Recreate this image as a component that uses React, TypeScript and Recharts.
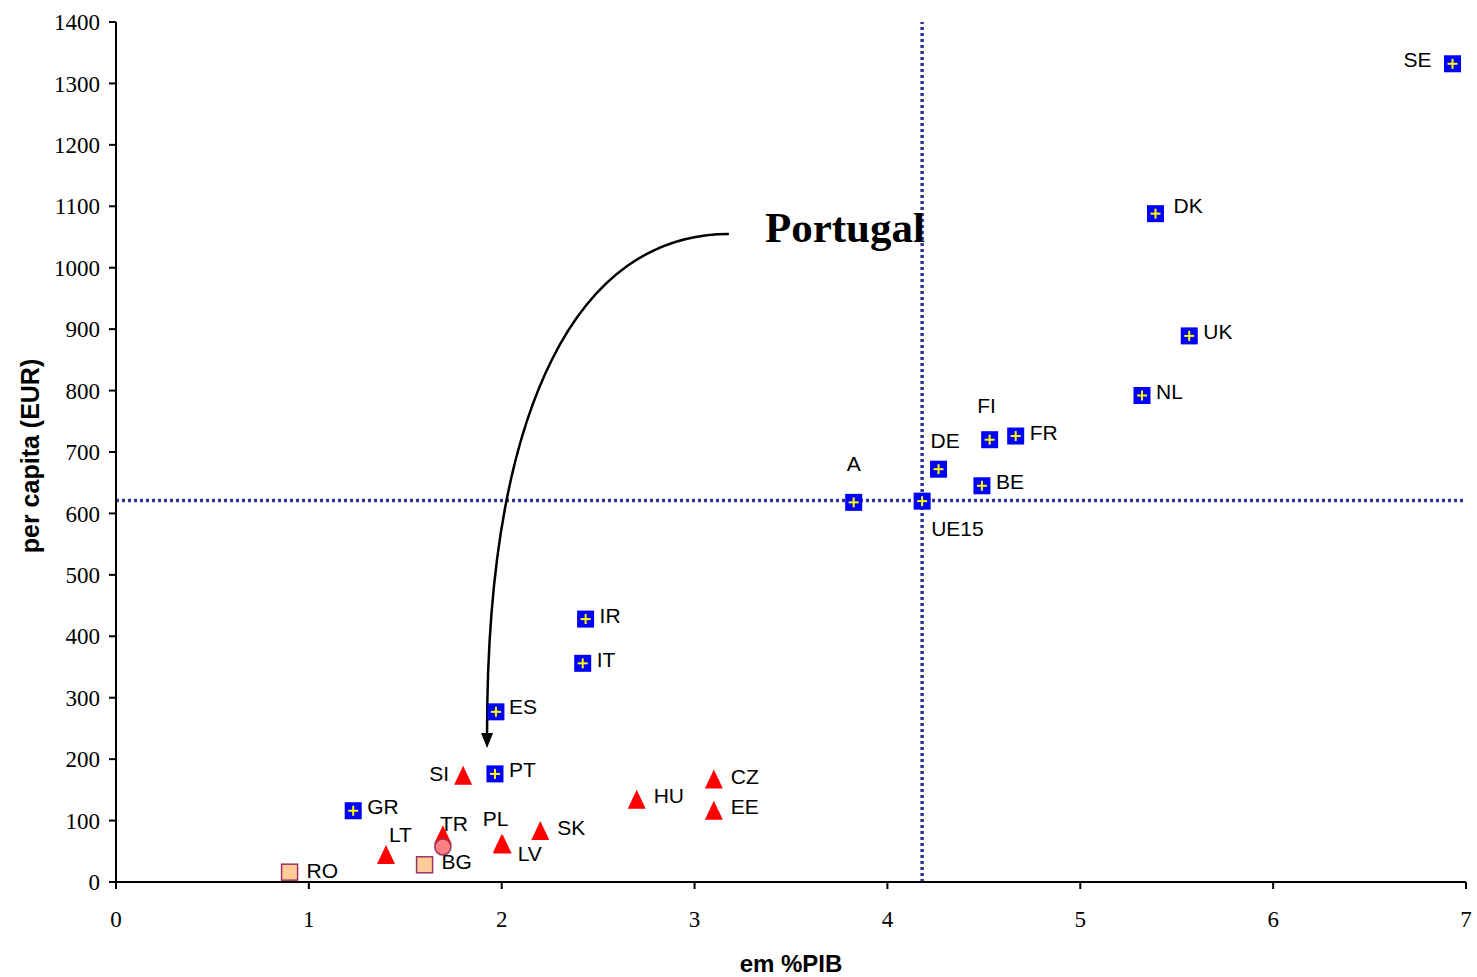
import React from 'react';
import {
  ScatterChart, Scatter, XAxis, YAxis, ReferenceLine,
} from 'recharts';

// EU15 members (blue squares)
const eu15Names = ['SE', 'DK', 'UK', 'NL', 'FR', 'FI', 'DE', 'BE', 'A', 'UE15', 'IR', 'IT', 'ES', 'PT', 'GR'];
const eu15X = [6.93, 5.39, 5.565, 5.32, 4.665, 4.53, 4.265, 4.49, 3.825, 4.18, 2.435, 2.42, 1.97, 1.965, 1.23];
const eu15Y = [1332, 1088, 889, 792, 726, 720, 672, 645, 618, 620, 428, 356, 277, 176, 116];

// new member states (red triangles)
const newNames = ['SI', 'LT', '', 'PL', 'LV', 'SK', 'HU', 'CZ', 'EE'];
const newX = [1.8, 1.4, 1.695, 2.0, 2.005, 2.2, 2.7, 3.1, 3.1];
const newY = [173, 44, 76, 62, 61, 83, 134, 167, 116];

// candidates (orange squares)
const candNames = ['RO', 'BG'];
const candX = [0.9, 1.6];
const candY = [16, 28];

// Turkey (circle)
const trNames = ['TR'];
const trX = [1.695];
const trY = [57];

const xTicks = [0, 1, 2, 3, 4, 5, 6, 7];
const yTicks = [0, 100, 200, 300, 400, 500, 600, 700, 800, 900, 1000, 1100, 1200, 1300, 1400];

// UE15 average lines
const avgX = 4.18;
const avgY = 621;

// arrow from the "Portugal" note to the PT point
const arrowFrom = { x: 3.178, y: 1055 };
const arrowTo = { x: 1.924, y: 218 };

const build = (names: string[], xs: number[], ys: number[]) =>
  names.map((name, i) => ({ name, x: xs[i], y: ys[i] }));

const eu15Data = build(eu15Names, eu15X, eu15Y);
const newData = build(newNames, newX, newY);
const candData = build(candNames, candX, candY);
const trData = build(trNames, trX, trY);

// label placement: [dx, dy, anchor]
const labelPos: Record<string, [number, number, string]> = {
  SE: [-21, -4, 'end'],
  DK: [18, -8, 'start'],
  FI: [-3, -34, 'middle'],
  DE: [-8, -29, 'start'],
  A: [0, -39, 'middle'],
  UE15: [9, 27, 'start'],
  ES: [13, -5, 'start'],
  SI: [-14, -2, 'end'],
  LT: [3, -20, 'start'],
  PL: [-19, -25, 'start'],
  LV: [15, 9, 'start'],
  SK: [17, -4, 'start'],
  HU: [17, -4, 'start'],
  CZ: [17, -3, 'start'],
  EE: [17, -4, 'start'],
  RO: [17, -2, 'start'],
  BG: [17, -3, 'start'],
  TR: [-3, -23, 'start'],
};

const FONT = '"Liberation Sans", Arial, sans-serif';
const SERIF = '"Liberation Serif", "Times New Roman", serif';

function PointLabel({ cx, cy, name }: any) {
  if (!name) return null;
  const [dx, dy, anchor] = labelPos[name] || [14, -4, 'start'];
  return (
    <text x={cx + dx} y={cy + dy} textAnchor={anchor as any} dominantBaseline="central"
      fontFamily={FONT} fontSize={21} fill="#000">
      {name}
    </text>
  );
}

function EuMarker(props: any) {
  const { cx, cy, payload } = props;
  return (
    <g>
      <rect x={cx - 8.5} y={cy - 8.5} width={17} height={17} fill="#0000FF" />
      <line x1={cx - 5} y1={cy} x2={cx + 5} y2={cy} stroke="#FFFF00" strokeWidth={2} />
      <line x1={cx} y1={cy - 5} x2={cx} y2={cy + 5} stroke="#FFFF00" strokeWidth={2} />
      <PointLabel cx={cx} cy={cy} name={payload.name} />
    </g>
  );
}

function TriMarker(props: any) {
  const { cx, cy, payload } = props;
  return (
    <g>
      <polygon points={`${cx},${cy - 10} ${cx + 9},${cy + 9} ${cx - 9},${cy + 9}`} fill="#FF0000" />
      <PointLabel cx={cx} cy={cy} name={payload.name} />
    </g>
  );
}

function CandMarker(props: any) {
  const { cx, cy, payload } = props;
  return (
    <g>
      <rect x={cx - 8} y={cy - 8} width={16} height={16} fill="#FFCC99" stroke="#993366" strokeWidth={1.5} />
      <PointLabel cx={cx} cy={cy} name={payload.name} />
    </g>
  );
}

function CircleMarker(props: any) {
  const { cx, cy, payload } = props;
  return (
    <g>
      <circle cx={cx} cy={cy} r={8} fill="#FF8080" stroke="#993366" strokeWidth={1.5} />
      <PointLabel cx={cx} cy={cy} name={payload.name} />
    </g>
  );
}

function ArrowShape(props: any) {
  const { x1, y1, x2, y2 } = props;
  const c1x = x1 - 0.62 * (x1 - x2);
  const c2y = y1 + 0.33 * (y2 - y1);
  const tipY = y2;
  const baseY = y2 - 15;
  return (
    <g>
      <path d={`M${x1},${y1} C${c1x},${y1} ${x2},${c2y} ${x2},${baseY}`} fill="none" stroke="#000" strokeWidth={2.5} />
      <polygon points={`${x2},${tipY} ${x2 - 6},${baseY} ${x2 + 6},${baseY}`} fill="#000" />
      <text x={x1 + 36} y={y1 + 8} fontFamily={SERIF} fontWeight="bold" fontSize={43} fill="#000">Portugal</text>
    </g>
  );
}

function XTitle(props: any) {
  const { viewBox } = props;
  return (
    <text x={viewBox.x + viewBox.width / 2} y={viewBox.y + 81} textAnchor="middle" dominantBaseline="central"
      fontFamily={FONT} fontWeight="bold" fontSize={24} fill="#000">
      em %PIB
    </text>
  );
}

function YTitle(props: any) {
  const { viewBox } = props;
  const x = 30;
  const y = viewBox.y + viewBox.height / 2 + 4;
  return (
    <text x={x} y={y} transform={`rotate(-90, ${x}, ${y})`} textAnchor="middle" dominantBaseline="central"
      fontFamily={FONT} fontWeight="bold" fontSize={25} fill="#000">
      per capita (EUR)
    </text>
  );
}

export default function App() {
  const tickStyle = { fill: '#000', fontSize: 23, fontFamily: SERIF };
  return (
    <div style={{ position: 'absolute', left: 0, top: 0, background: '#fff' }}>
      <ScatterChart width={1477} height={977} margin={{ top: 22, right: 11, bottom: 0, left: 0 }}>
        <XAxis type="number" dataKey="x" domain={[0, 7]} ticks={xTicks} interval={0} height={95}
          tickSize={7} tickMargin={22} tick={tickStyle}
          axisLine={{ stroke: '#000', strokeWidth: 2 }} tickLine={{ stroke: '#000', strokeWidth: 2 }}
          allowDataOverflow label={{ content: XTitle }} />
        <YAxis type="number" dataKey="y" domain={[0, 1400]} ticks={yTicks} interval={0} width={116}
          tickSize={7} tickMargin={9} tick={tickStyle}
          axisLine={{ stroke: '#000', strokeWidth: 2 }} tickLine={{ stroke: '#000', strokeWidth: 2 }}
          allowDataOverflow label={{ content: YTitle }} />
        <ReferenceLine x={avgX} stroke="#333399" strokeWidth={3.5} strokeDasharray="3 3" />
        <ReferenceLine y={avgY} stroke="#333399" strokeWidth={3.5} strokeDasharray="3 3" />
        <ReferenceLine segment={[arrowFrom, arrowTo]} shape={ArrowShape} />
        <Scatter data={eu15Data} shape={EuMarker} isAnimationActive={false} />
        <Scatter data={newData} shape={TriMarker} isAnimationActive={false} />
        <Scatter data={candData} shape={CandMarker} isAnimationActive={false} />
        <Scatter data={trData} shape={CircleMarker} isAnimationActive={false} />
      </ScatterChart>
    </div>
  );
}
